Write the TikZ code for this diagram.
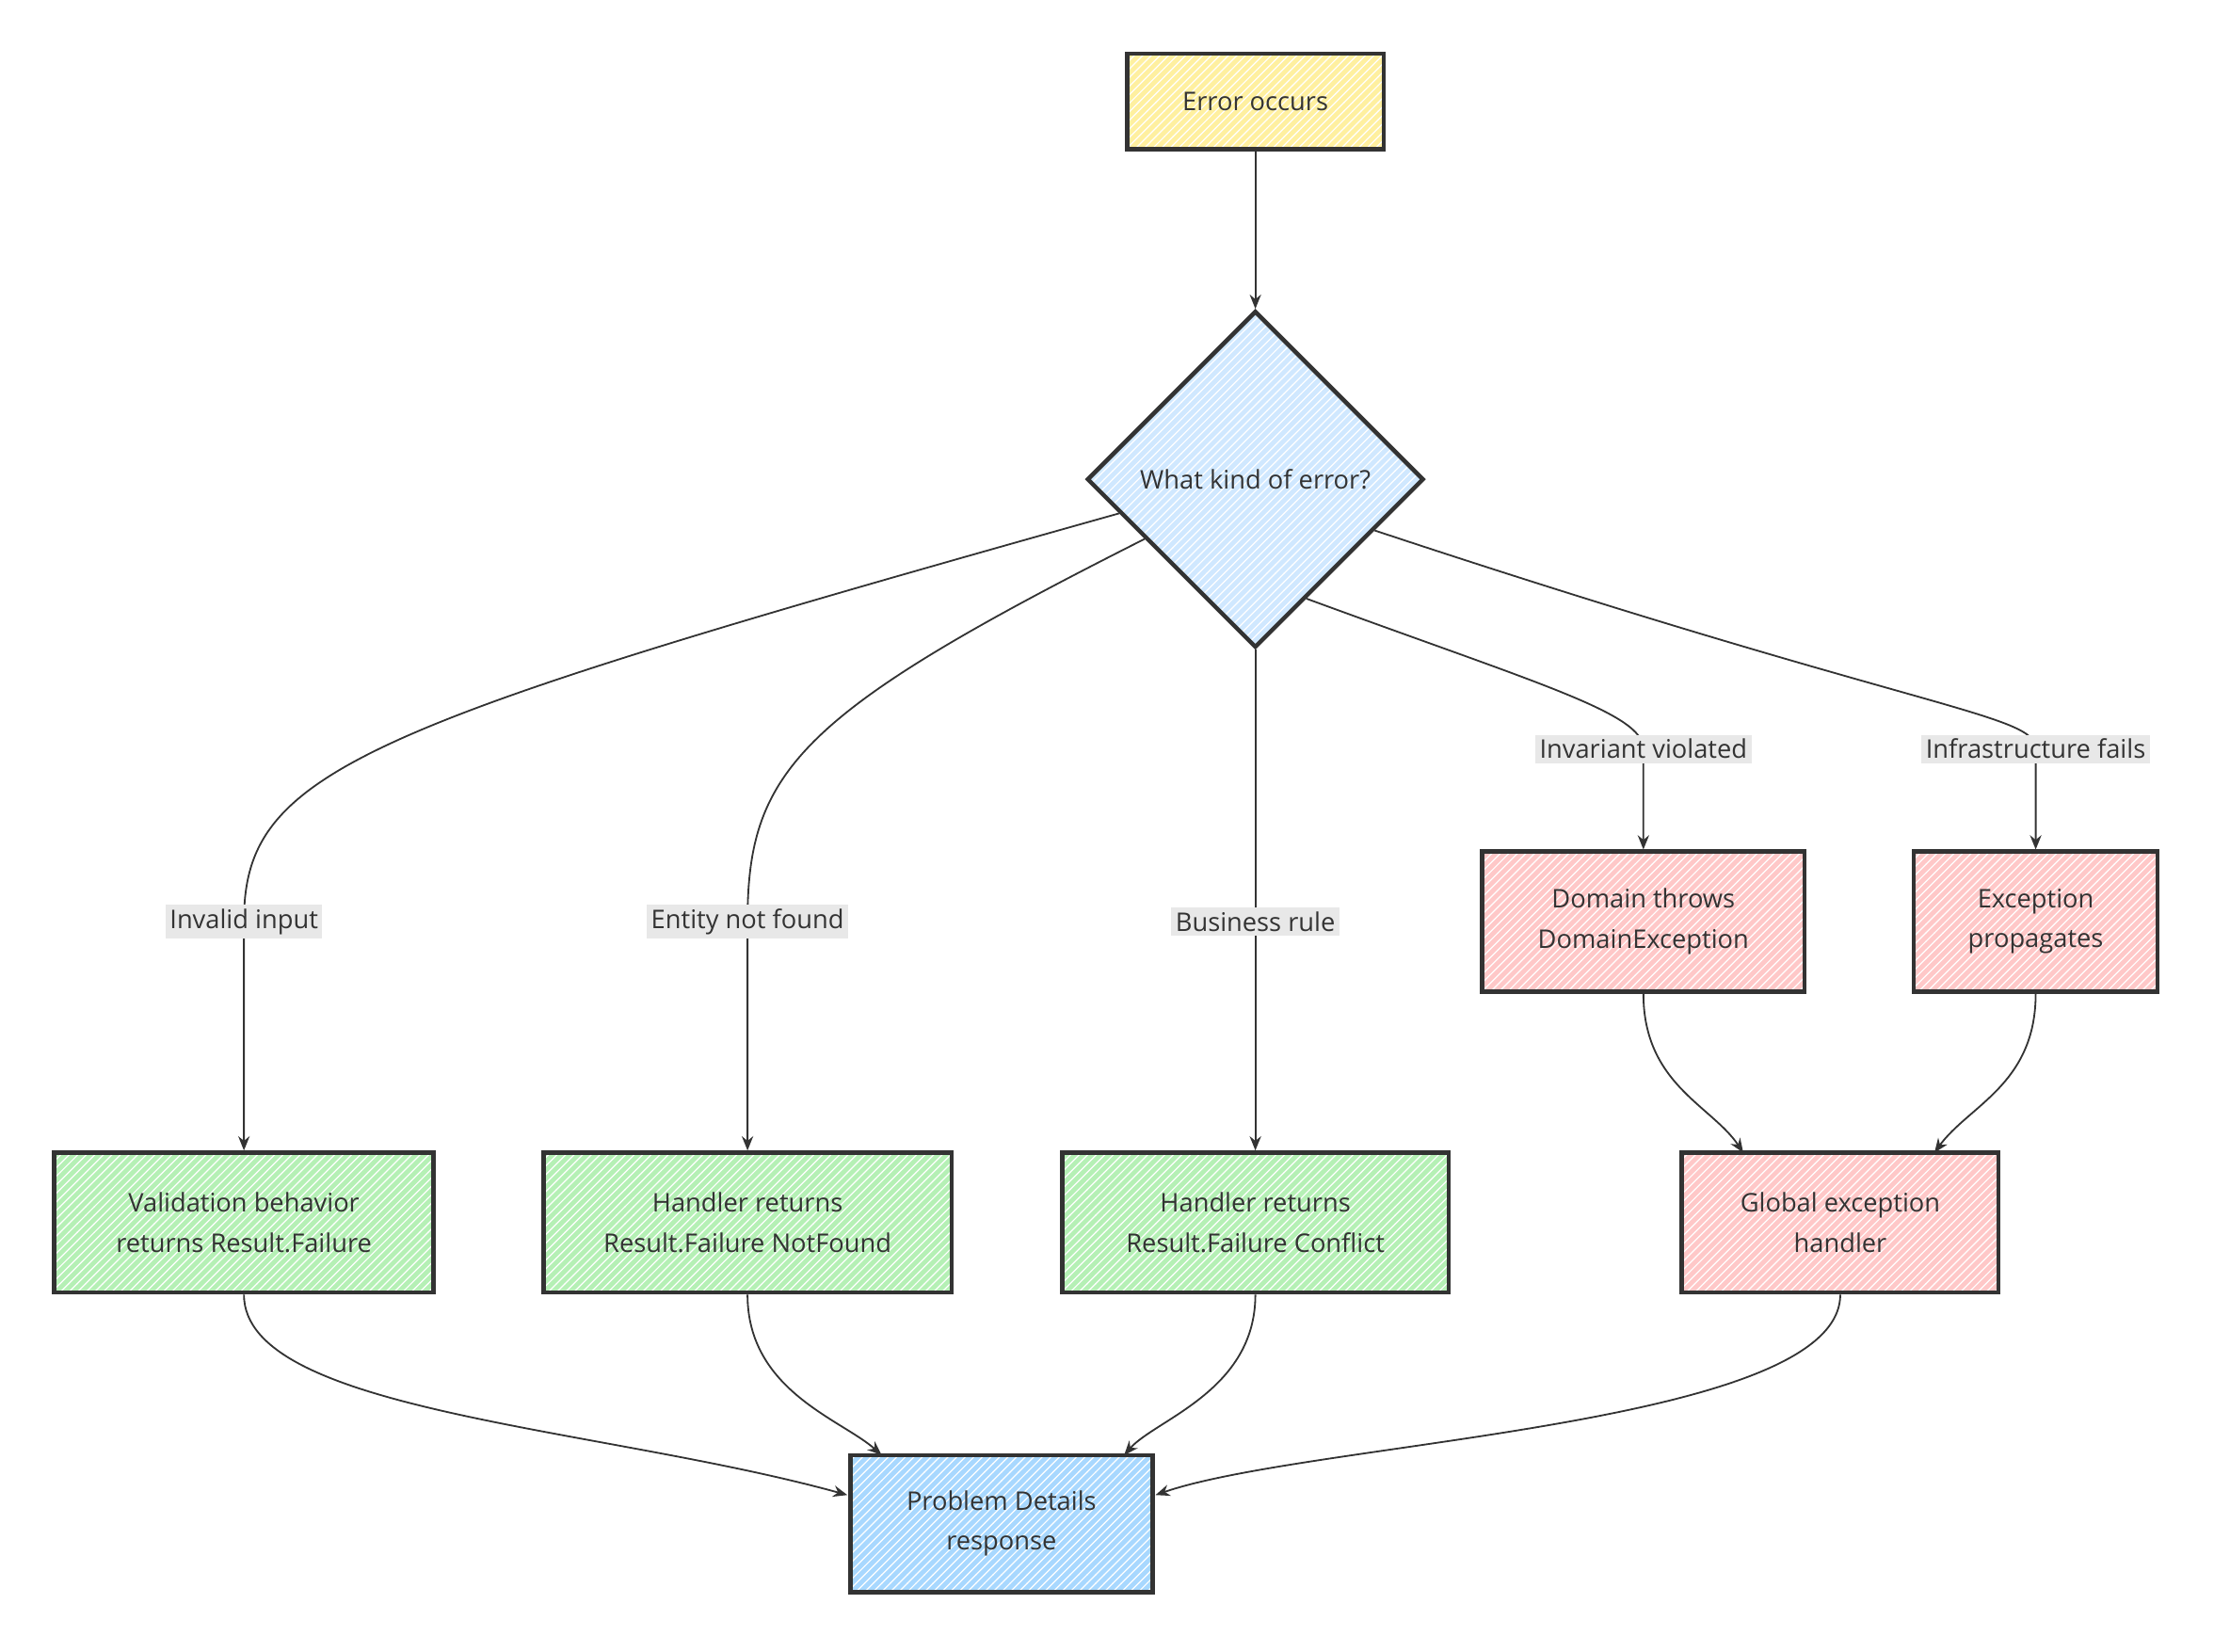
\documentclass[tikz,border=0pt]{standalone}
\usepackage{fontspec}
\setmainfont{Open Sans}
\usetikzlibrary{shapes.geometric,arrows.meta,patterns,calc}
\definecolor{ln}{HTML}{333333}
\definecolor{yel}{HTML}{FFF0A0}
\definecolor{grn}{HTML}{B5F0B5}
\definecolor{pnk}{HTML}{FFC8C8}
\definecolor{lbl}{HTML}{D0E8FF}
\definecolor{pdb}{HTML}{A8D8FF}
\definecolor{lab}{HTML}{E8E8E8}
\begin{document}
\begin{tikzpicture}[x=0.5pt,y=-0.5pt,
  every node/.style={font=\fontsize{9}{14}\selectfont,text=ln},
  box/.style={draw=ln,line width=1.5pt,align=center,inner sep=0pt,minimum height=49pt,pattern=north east lines,pattern color=white},
  edge/.style={draw=ln,line width=0.6pt,-{Stealth[length=5pt,width=4pt]}},
  elab/.style={fill=lab,inner sep=1.5pt}]
\useasboundingbox (0,0) rectangle (1552,1158);
\node[box,preaction={fill=yel},minimum width=90pt,minimum height=33.5pt] (e) at (880,71) {Error occurs};
\node[draw=ln,line width=1.5pt,diamond,minimum width=118pt,minimum height=118pt,inner sep=0pt,preaction={fill=lbl},pattern=north east lines,pattern color=white] (d) at (880,336) {What kind of error?};
\node[box,preaction={fill=grn},minimum width=133pt] (v) at (171,857) {Validation behavior\\returns Result.Failure};
\node[box,preaction={fill=grn},minimum width=143pt] (h1) at (524,857) {Handler returns\\Result.Failure NotFound};
\node[box,preaction={fill=grn},minimum width=135.5pt] (h2) at (880,857) {Handler returns\\Result.Failure Conflict};
\node[box,preaction={fill=pnk},minimum width=111pt] (g) at (1290,857) {Global exception\\handler};
\node[box,preaction={fill=pnk},minimum width=113pt] (dt) at (1152,646) {Domain throws\\DomainException};
\node[box,preaction={fill=pnk},minimum width=85.5pt] (ep) at (1427,646) {Exception\\propagates};
\node[box,preaction={fill=pdb},minimum width=106pt,minimum height=48pt] (pd) at (702,1068) {Problem Details\\response};
\coordinate (l1) at (171,646);
\coordinate (l2) at (524,646);
\coordinate (l3) at (880,646);
\coordinate (l4) at (1152,525);
\coordinate (l5) at (1427,525);
\draw[edge] (e) -- (d);
\draw[edge] ($(d.west)!0.2!(d.south)$) .. controls (250,510) and (171,540) .. (l1) -- (v.north);
\draw[edge] ($(d.west)!0.35!(d.south)$) .. controls (560,500) and (524,540) .. (l2) -- (h1.north);
\draw[edge] (d.south) -- (l3) -- (h2.north);
\draw[edge] ($(d.east)!0.7!(d.south)$) .. controls (1080,480) and (1152,500) .. (l4) -- (dt.north);
\draw[edge] ($(d.east)!0.3!(d.south)$) .. controls (1350,500) and (1427,500) .. (l5) -- (ep.north);
\draw[edge] (dt.south) .. controls (1152,760) and (1200,775) .. (1222,808);
\draw[edge] (ep.south) .. controls (1427,760) and (1380,775) .. (1356,808);
\draw[edge] (v.south) .. controls (171,990) and (420,1000) .. (594,1048);
\draw[edge] (h1.south) .. controls (524,975) and (590,995) .. (618,1020);
\draw[edge] (h2.south) .. controls (880,975) and (810,995) .. (788,1020);
\draw[edge] (g.south) .. controls (1290,1000) and (920,1010) .. (810,1048);
\node[elab] at (l1) {Invalid input};
\node[elab] at (l2) {Entity not found};
\node[elab] at (l3) {Business rule};
\node[elab] at (l4) {Invariant violated};
\node[elab] at (l5) {Infrastructure fails};
\end{tikzpicture}
\end{document}
